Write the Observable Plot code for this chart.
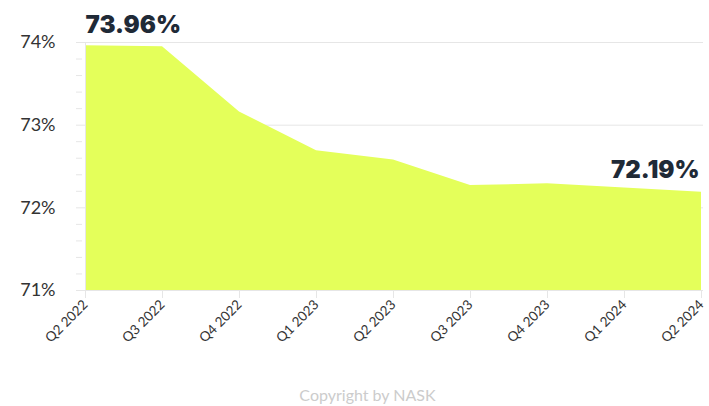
<!DOCTYPE html>
<html>
<head>
<meta charset="utf-8">
<script src="https://cdn.jsdelivr.net/npm/d3@7"></script>
<script src="https://cdn.jsdelivr.net/npm/@observablehq/plot@0.6"></script>
<style>
  html, body { margin: 0; padding: 0; background: #fff; }
  #chart { width: 709px; height: 406px; position: relative; font-family: Lato, "Open Sans", sans-serif; }
  #caption { position: absolute; left: 0; top: 385px; width: 709px; box-sizing: border-box; padding-left: 26px; text-align: center; font-size: 16px; color: #cccccc; font-family: Lato, sans-serif; }
</style>
</head>
<body>
<div id="chart"></div>
<script>
const quarters = ["Q2 2022", "Q3 2022", "Q4 2022", "Q1 2023", "Q2 2023", "Q3 2023", "Q4 2023", "Q1 2024", "Q2 2024"];
const values = [73.96, 73.95, 73.16, 72.69, 72.58, 72.27, 72.29, 72.24, 72.19];
const yTicks = [71, 72, 73, 74];
const yMinorTicks = [71.2, 71.4, 71.6, 71.8, 72.2, 72.4, 72.6, 72.8, 73.2, 73.4, 73.6, 73.8];

const data = quarters.map((q, i) => ({q, v: values[i]}));
const first = [data[0]];
const last = [data[data.length - 1]];

const chart = Plot.plot({
  width: 709,
  height: 370,
  marginLeft: 82,
  marginRight: 6,
  marginTop: 42,
  marginBottom: 80,
  style: {fontFamily: "Lato, sans-serif", background: "#fff", overflow: "visible"},
  x: {type: "point", domain: quarters, padding: 0},
  y: {domain: [71, 74]},
  marks: [
    Plot.gridY(yTicks, {stroke: "#e6e6e6", strokeOpacity: 1, x1: null}),
    Plot.areaY(data, {x: "q", y1: 71, y2: "v", fill: "#e4ff5a", curve: "linear"}),
    Plot.ruleY([71], {stroke: "#e6e6e6"}),
    Plot.ruleX([quarters[0]], {stroke: "#e6e6e6", y1: 71, y2: 74}),
    Plot.axisY(yMinorTicks, {tickSize: 6, stroke: "#e6e6e6", strokeOpacity: 1, text: null, label: null}),
    Plot.axisY(yTicks, {tickSize: 6, stroke: "#e6e6e6", strokeOpacity: 1, tickFormat: d => d + "%", fontSize: 18, fill: "#333", tickPadding: 21, label: null}),
    Plot.axisX({tickSize: 8, stroke: "#e6e6e6", strokeOpacity: 1, tickRotate: -45, fontSize: 13.5, fill: "#333", tickPadding: 4, label: null}),
    Plot.text(first, {x: "q", y: "v", text: d => d.v.toFixed(2) + "%", textAnchor: "start", lineAnchor: "bottom", dy: -13, fontSize: 24, fontWeight: 900, fill: "#1f2a37", fontFamily: "Inter, sans-serif"}),
    Plot.text(last, {x: "q", y: "v", text: d => d.v.toFixed(2) + "%", textAnchor: "end", lineAnchor: "bottom", dy: -14, dx: -2, fontSize: 24, fontWeight: 900, fill: "#1f2a37", fontFamily: "Inter, sans-serif"})
  ]
});
document.getElementById("chart").appendChild(chart);
const cap = document.createElement("div");
cap.id = "caption";
cap.textContent = "Copyright by NASK";
document.getElementById("chart").appendChild(cap);
</script>
</body>
</html>
